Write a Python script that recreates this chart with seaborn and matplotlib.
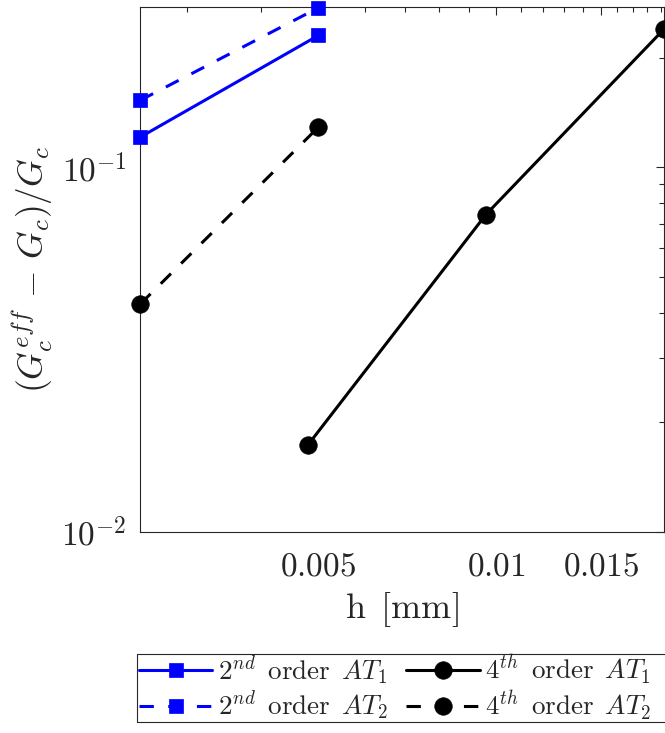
import matplotlib
matplotlib.use("Agg")
import matplotlib.pyplot as plt
from matplotlib.patches import Rectangle
from matplotlib.ticker import FixedLocator, NullFormatter, FixedFormatter
import seaborn as sns

# Mesh sizes h [mm]
h_coarse = [0.0025, 0.005]
h_fine = [0.0048, 0.0096, 0.0192]

# Relative error of the effective fracture toughness
err_2nd_at1 = [0.1212, 0.2303]
err_2nd_at2 = [0.1529, 0.2743]
err_4th_at1 = [0.01733, 0.0743, 0.2396]
err_4th_at2 = [0.04223, 0.129]

labels = [
    r"$2^{nd}\enspace\mathrm{order}\enspace AT_1$",
    r"$2^{nd}\enspace\mathrm{order}\enspace AT_2$",
    r"$4^{th}\enspace\mathrm{order}\enspace AT_1$",
    r"$4^{th}\enspace\mathrm{order}\enspace AT_2$",
]

x_major = [0.005, 0.01, 0.015]
x_major_labels = [r"$0.005$", r"$0.01$", r"$0.015$"]
x_minor = [0.003, 0.004, 0.006, 0.007, 0.008, 0.009, 0.011, 0.012,
           0.013, 0.014, 0.016, 0.017, 0.018, 0.019]
y_major = [0.01, 0.1]
y_major_labels = [r"$10^{-2}$", r"$10^{-1}$"]
y_minor = [0.02, 0.03, 0.04, 0.05, 0.06, 0.07, 0.08, 0.09, 0.2]

sns.set_style("white")
plt.rcParams["mathtext.fontset"] = "cm"
plt.rcParams["font.family"] = ["DejaVu Serif"]

AX_COLOR = "#262626"
LW = 2.2
DASH = (0, (4.7, 4.7))
W, H = 665, 733

fig = plt.figure(figsize=(W / 100, H / 100), dpi=100)
ax = fig.add_axes([0.2111, 0.2742, 0.7874, 0.7161])

series = [
    (h_coarse, err_2nd_at1, "#0000ff", "s", 10, "-", labels[0]),
    (h_coarse, err_2nd_at2, "#0000ff", "s", 10, DASH, labels[1]),
    (h_fine, err_4th_at1, "black", "o", 12.6, "-", labels[2]),
    (h_coarse, err_4th_at2, "black", "o", 12.6, DASH, labels[3]),
]

for xs, ys, col, mk, ms, ls, lab in series:
    sns.lineplot(x=xs, y=ys, ax=ax, color=col, marker=mk, markersize=ms,
                 markeredgecolor=col, markerfacecolor=col, markeredgewidth=0.5,
                 linewidth=LW, linestyle=ls, label=lab, legend=False,
                 clip_on=False, zorder=3)

ax.set_xscale("log")
ax.set_yscale("log")
ax.set_xlim(0.0025, 0.0192)
ax.set_ylim(0.01, max(err_2nd_at2) * 1.004)

ax.xaxis.set_major_locator(FixedLocator(x_major))
ax.xaxis.set_major_formatter(FixedFormatter(x_major_labels))
ax.xaxis.set_minor_locator(FixedLocator(x_minor))
ax.xaxis.set_minor_formatter(NullFormatter())
ax.yaxis.set_major_locator(FixedLocator(y_major))
ax.yaxis.set_major_formatter(FixedFormatter(y_major_labels))
ax.yaxis.set_minor_locator(FixedLocator(y_minor))
ax.yaxis.set_minor_formatter(NullFormatter())

for side in ax.spines.values():
    side.set_color(AX_COLOR)
    side.set_linewidth(0.8)

ax.tick_params(which="both", direction="in", top=True, right=True,
               color=AX_COLOR, labelcolor=AX_COLOR, width=0.8)
ax.tick_params(which="major", length=5.5, labelsize=24)
ax.tick_params(axis="x", which="major", pad=13)
ax.tick_params(axis="y", which="major", pad=10)
ax.tick_params(which="minor", length=3.5)

ax.set_xlabel(r"$\mathrm{h\enspace[mm]}$", fontsize=26, color=AX_COLOR, labelpad=6)
ax.set_ylabel(r"$(G_c^{eff}\,-\,G_c)/G_c$", fontsize=25.5, color=AX_COLOR,
              labelpad=4)

# Two-column legend below the axes, with a tight rectangular frame
handles, labs = ax.get_legend_handles_labels()
leg = fig.legend(handles, labs, loc="center left",
                 bbox_to_anchor=(139 / W, 1 - 687.5 / H), ncol=2,
                 fontsize=19.5, frameon=False, handlelength=2.7,
                 handletextpad=0.2, columnspacing=0.7, borderpad=0,
                 labelspacing=0.08, borderaxespad=0)
frame = Rectangle((137.3 / W, 1 - 722 / H), (W - 137.3 + 2) / W, 68 / H,
                  transform=fig.transFigure, fill=False, edgecolor=AX_COLOR,
                  linewidth=0.8)
fig.patches.append(frame)

fig.savefig("out.png", dpi=100)
